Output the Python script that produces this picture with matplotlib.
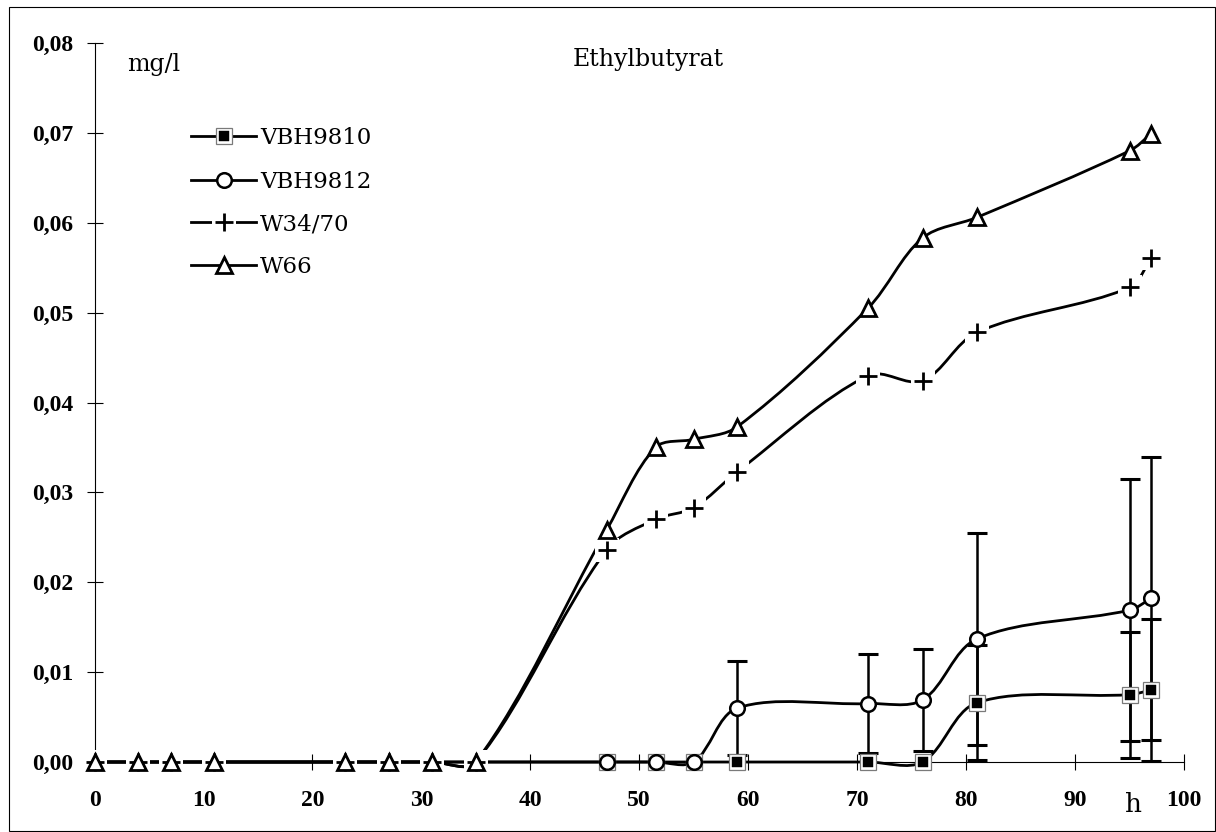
import matplotlib
matplotlib.use("Agg")
import matplotlib.pyplot as plt
from matplotlib.path import Path
from matplotlib.patches import PathPatch, Rectangle
from matplotlib.lines import Line2D
import numpy as np

plt.rcParams['font.family'] = ['DejaVu Serif']

# ---------------- data ----------------
hours = [0, 4, 7, 11, 23, 27, 31, 35, 47, 51.5, 55, 59, 71, 76, 81, 95, 97]
vbh9810 = [0, 0, 0, 0, 0, 0, 0, 0, 0, 0, 0, 0, 0, 0, 0.0066, 0.0075, 0.0080]
vbh9812 = [0, 0, 0, 0, 0, 0, 0, 0, 0, 0, 0, 0.0060, 0.0065, 0.0069, 0.0137, 0.0169, 0.0182]
w3470 = [0, 0, 0, 0, 0, 0, 0, 0, 0.0236, 0.0270, 0.0283, 0.0323, 0.0430, 0.0424, 0.0478, 0.0528, 0.0561]
w66 = [0, 0, 0, 0, 0, 0, 0, 0, 0.0258, 0.0350, 0.0359, 0.0373, 0.0505, 0.0583, 0.0606, 0.0680, 0.0699]
err9810 = [0, 0, 0, 0, 0, 0, 0, 0, 0, 0, 0, 0, 0, 0, 0.0064, 0.0070, 0.0079]
err9812 = [0, 0, 0, 0, 0, 0, 0, 0, 0, 0, 0, 0.0052, 0.0055, 0.0057, 0.0118, 0.0146, 0.0157]
series_names = ["VBH9810", "VBH9812", "W34/70", "W66"]
xticks = [0, 10, 20, 30, 40, 50, 60, 70, 80, 90, 100]
xtick_labels = ["0", "10", "20", "30", "40", "50", "60", "70", "80", "90", "100"]
yticks = [0, 0.01, 0.02, 0.03, 0.04, 0.05, 0.06, 0.07, 0.08]
ytick_labels = ["0,00", "0,01", "0,02", "0,03", "0,04", "0,05", "0,06", "0,07", "0,08"]
title = "Ethylbutyrat"
unit_label = "mg/l"
x_unit = "h"

# ---------------- figure ----------------
W, H = 1216, 832
fig = plt.figure(figsize=(W / 100, H / 100), dpi=100)
L, R, B, T = 94.5, 1184, 762, 43
ax = fig.add_axes([L / W, (H - B) / H, (R - L) / W, (B - T) / H])
ax.set_xlim(0, 100)
ax.set_ylim(0, 0.08)
ax.set_facecolor('none')
for s in ('top', 'right'):
    ax.spines[s].set_visible(False)
for s in ('left', 'bottom'):
    ax.spines[s].set_linewidth(0.8)
    ax.spines[s].set_zorder(1.5)

tick_font = dict(family='Liberation Serif', weight='bold', size=17)
ax.set_xticks(xticks)
ax.set_xticklabels(xtick_labels, fontdict=tick_font)
ax.set_yticks(yticks)
ax.set_yticklabels(ytick_labels, fontdict=tick_font)
ax.tick_params(axis='x', direction='inout', length=11, width=0.8, pad=15)
ax.tick_params(axis='y', direction='inout', length=12, width=0.8, pad=9.5)
ax.set_axisbelow(True)


def fx(px):
    return px / W


def fy(py):
    return 1 - py / H


def smooth_path(xs, ys):
    pts = np.column_stack([xs, ys]).astype(float)
    disp = ax.transData.transform(pts)
    n = len(pts)
    seg = np.hypot(*np.diff(disp, axis=0).T)
    verts = [pts[0]]
    codes = [Path.MOVETO]
    for i in range(n - 1):
        if i == 0:
            c1 = pts[0] + (pts[1] - pts[0]) / 3
        else:
            d = pts[i + 1] - pts[i - 1]
            c1 = pts[i] + d * seg[i] / (seg[i - 1] + seg[i]) / 3
        if i == n - 2:
            c2 = pts[i + 1] - (pts[i + 1] - pts[i]) / 3
        else:
            d = pts[i + 2] - pts[i]
            c2 = pts[i + 1] - d * seg[i] / (seg[i] + seg[i + 1]) / 3
        verts += [c1, c2, pts[i + 1]]
        codes += [Path.CURVE4] * 3
    return Path(verts, codes)


LW = 2.0
# lines (all drawn first, like the original)
for ys in (vbh9810, vbh9812, w3470, w66):
    ax.add_patch(PathPatch(smooth_path(hours, ys), fill=False, lw=LW, ec='black',
                           zorder=2, clip_on=False, capstyle='butt', joinstyle='round'))

# error bars
for ys, es in ((vbh9810, err9810), (vbh9812, err9812)):
    idx = [i for i, e in enumerate(es) if e > 0]
    ax.errorbar([hours[i] for i in idx], [ys[i] for i in idx], yerr=[es[i] for i in idx],
                fmt='none', ecolor='black', elinewidth=1.8, capsize=7.5, capthick=2.2,
                zorder=3, clip_on=False)


def markers(axis_or_fig, x, y, kind, transform=None, z=4):
    kw = dict(ls='none', clip_on=False)
    if transform is not None:
        kw['transform'] = transform
    arts = []
    if kind == 0:
        arts.append(Line2D(x, y, marker='s', ms=12, mfc='white', mec='#7a7a7a', mew=0.9, zorder=z, **kw))
        arts.append(Line2D(x, y, marker='s', ms=6.5, mfc='black', mec='black', mew=0.3, zorder=z + 0.01, **kw))
    elif kind == 1:
        arts.append(Line2D(x, y, marker='o', ms=10.5, mfc='white', mec='black', mew=1.8, zorder=z + 0.1, **kw))
    elif kind == 2:
        arts.append(Line2D(x, y, marker='s', ms=17, mfc='white', mec='none', mew=0, zorder=z + 0.2, **kw))
        arts.append(Line2D(x, y, marker='+', ms=13, mec='black', mew=2.0, zorder=z + 0.21, **kw))
    else:
        arts.append(Line2D(x, y, marker='^', ms=12, mfc='white', mec='black', mew=2.0, zorder=z + 0.3, **kw))
    for a in arts:
        axis_or_fig.add_artist(a)


for k, ys in enumerate((vbh9810, vbh9812, w3470, w66)):
    markers(ax, hours, ys, k)

# legend (manual, as in the original)
rows = [136, 180, 222, 265]
for k, (name, ry) in enumerate(zip(series_names, rows)):
    fig.add_artist(Line2D([fx(191), fx(256)], [fy(ry), fy(ry)], transform=fig.transFigure,
                          color='black', lw=LW, zorder=2))
    markers(fig, [fx(223.5)], [fy(ry)], k, transform=fig.transFigure, z=4)
    fig.text(fx(260), fy(ry + 8.3), name, ha='left', va='baseline', fontsize=16.5,
             family='DejaVu Serif', zorder=6)

# texts
fig.text(fx(648), fy(66), title, ha='center', va='baseline', fontsize=17, family='DejaVu Serif')
fig.text(fx(127), fy(71), unit_label, ha='left', va='baseline', fontsize=17, family='DejaVu Serif')
ax.text(95.4, -0.0033, x_unit, ha='center', va='top', fontsize=19, family='DejaVu Serif',
        transform=ax.transData)

# outer frame
fig.add_artist(Rectangle((fx(9), fy(830.5)), fx(1214.5) - fx(9), fy(7) - fy(830.5),
                         transform=fig.transFigure, fill=False, lw=0.8, ec='black'))

fig.savefig("out.png", dpi=100)
